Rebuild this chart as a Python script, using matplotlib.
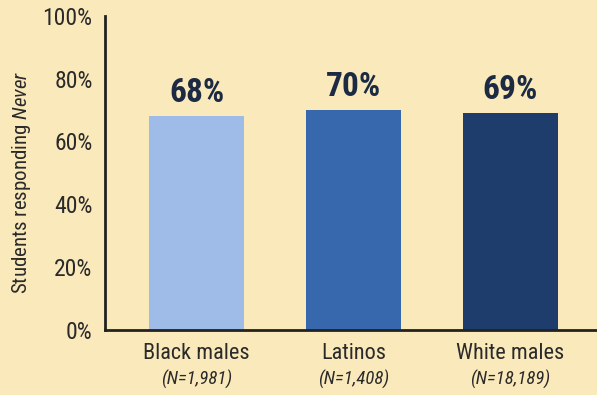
import matplotlib
matplotlib.use("Agg")
import matplotlib.pyplot as plt

# -------- Data --------
groups = ["Black males", "Latinos", "White males"]
counts = ["(N=1,981)", "(N=1,408)", "(N=18,189)"]
values = [68, 70, 69]
bar_colors = ["#9fbce8", "#3767ac", "#1f3d6c"]
yticks = [0, 20, 40, 60, 80, 100]

BG = "#fae9ba"
TXT = "#2a2a2a"

plt.rcParams["font.family"] = ["Roboto Condensed", "Liberation Sans", "DejaVu Sans"]
plt.rcParams["mathtext.fontset"] = "custom"
plt.rcParams["mathtext.it"] = "Roboto Condensed:italic"
plt.rcParams["mathtext.rm"] = "Roboto Condensed"

fig = plt.figure(figsize=(5.97, 3.95), dpi=100, facecolor=BG)
ax = fig.add_axes([0.176, 0.165, 0.824, 0.795], facecolor=BG)

x = list(range(len(groups)))
ax.bar(x, values, width=0.605, color=bar_colors, zorder=2)

for xi, v in zip(x, values):
    ax.text(xi, v + 2.2, f"{v}%", ha="center", va="bottom",
            fontsize=24, fontweight="bold", color="#1c2a44")

ax.set_xlim(-0.583, 2.551)
ax.set_ylim(0, 100)
ax.set_yticks(yticks)
ax.set_yticklabels([f"{t}%" for t in yticks], fontsize=17, color=TXT)
ax.tick_params(axis="y", length=0, pad=9)
ax.set_xticks(x)
ax.set_xticklabels([])
ax.tick_params(axis="x", length=0)

for xi, g, n in zip(x, groups, counts):
    ax.text(xi, -4.3, g, ha="center", va="top", fontsize=16, color=TXT)
    ax.text(xi, -12.8, n, ha="center", va="top", fontsize=13.5,
            style="italic", color=TXT)

ax.set_ylabel("Students responding $Never$", fontsize=15, color=TXT)
ax.yaxis.set_label_coords(-0.146, 0.47)

for side in ["top", "right"]:
    ax.spines[side].set_visible(False)
for side in ["left", "bottom"]:
    ax.spines[side].set_linewidth(2)
    ax.spines[side].set_color("#222222")

fig.savefig("out.png", dpi=100, facecolor=BG)
